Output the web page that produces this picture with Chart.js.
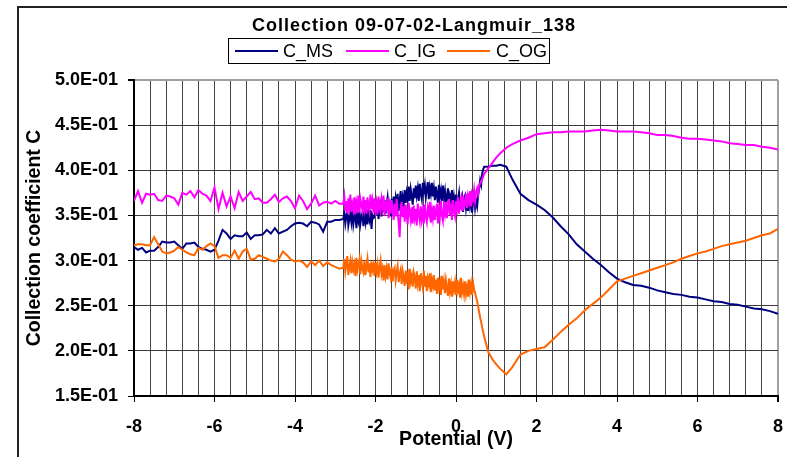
<!DOCTYPE html>
<html>
<head>
<meta charset="utf-8">
<script src="https://cdn.jsdelivr.net/npm/chart.js@4"></script>
<style>
html,body{margin:0;padding:0;background:#fff;}
#wrap{position:relative;width:787px;height:457px;overflow:hidden;font-family:Arial,"Liberation Sans",sans-serif;color:#000;}
#c{position:absolute;left:0;top:0;}
#title{position:absolute;left:214px;width:400px;top:13px;text-align:center;font-weight:bold;font-size:18px;letter-spacing:1px;line-height:24px;white-space:nowrap;}
#legend{position:absolute;left:228px;top:38px;width:320px;height:24px;border:1px solid #000;background:#fff;}
#legend .ln{position:absolute;top:11px;width:43px;height:2px;}
#legend .tx{position:absolute;top:0;line-height:24px;font-size:18px;white-space:nowrap;}
</style>
</head>
<body>
<div id="wrap">
  <canvas id="c" width="787" height="457"></canvas>
  <div id="title">Collection 09-07-02-Langmuir_138</div>
  <div id="legend">
    <div class="ln" style="left:6px;background:#000080"></div><div class="tx" style="left:54px">C_MS</div>
    <div class="ln" style="left:117px;background:#ff00ff"></div><div class="tx" style="left:165px">C_IG</div>
    <div class="ln" style="left:218px;background:#ff6600"></div><div class="tx" style="left:267px">C_OG</div>
  </div>
</div>
<script>
// ---- data ----
const seriesNames = ["C_MS", "C_IG", "C_OG"];

const potential = [
  // sparse part (-8 .. -2.8)
  -8.0,-7.9,-7.8,-7.7,-7.6,-7.5,-7.4,-7.3,-7.2,-7.1,
  -7.0,-6.9,-6.8,-6.7,-6.6,-6.5,-6.4,-6.3,-6.2,-6.1,
  -6.0,-5.9,-5.8,-5.7,-5.6,-5.5,-5.4,-5.3,-5.2,-5.1,
  -5.0,-4.9,-4.8,-4.7,-4.6,-4.5,-4.4,-4.3,-4.2,-4.1,
  -4.0,-3.9,-3.8,-3.7,-3.6,-3.5,-3.4,-3.3,-3.2,-3.1,
  -3.0,-2.9,-2.8,
  // dense part (-2.775 .. 0.7)
  -2.775,-2.750,-2.725,-2.700,-2.675,-2.650,-2.625,-2.600,-2.575,-2.550,
  -2.525,-2.500,-2.475,-2.450,-2.425,-2.400,-2.375,-2.350,-2.325,-2.300,
  -2.275,-2.250,-2.225,-2.200,-2.175,-2.150,-2.125,-2.100,-2.075,-2.050,
  -2.025,-2.000,-1.975,-1.950,-1.925,-1.900,-1.875,-1.850,-1.825,-1.800,
  -1.775,-1.750,-1.725,-1.700,-1.675,-1.650,-1.625,-1.600,-1.575,-1.550,
  -1.525,-1.500,-1.475,-1.450,-1.425,-1.400,-1.375,-1.350,-1.325,-1.300,
  -1.275,-1.250,-1.225,-1.200,-1.175,-1.150,-1.125,-1.100,-1.075,-1.050,
  -1.025,-1.000,-0.975,-0.950,-0.925,-0.900,-0.875,-0.850,-0.825,-0.800,
  -0.775,-0.750,-0.725,-0.700,-0.675,-0.650,-0.625,-0.600,-0.575,-0.550,
  -0.525,-0.500,-0.475,-0.450,-0.425,-0.400,-0.375,-0.350,-0.325,-0.300,
  -0.275,-0.250,-0.225,-0.200,-0.175,-0.150,-0.125,-0.100,-0.075,-0.050,
  -0.025,0.000,0.025,0.050,0.075,0.100,0.125,0.150,0.175,0.200,
  0.225,0.250,0.275,0.300,0.325,0.350,0.375,0.400,0.425,0.450,
  0.475,0.500,0.525,0.550,0.575,0.600,0.625,0.650,0.675,0.700,
  // smooth part (0.8 .. 8)
  0.8,0.9,1.0,1.1,1.25,1.4,1.6,1.8,2.0,2.2,
  2.4,2.6,2.8,3.0,3.2,3.4,3.6,3.8,4.0,4.2,
  4.4,4.6,4.8,5.0,5.2,5.4,5.6,5.8,6.0,6.2,
  6.4,6.6,6.8,7.0,7.2,7.4,7.6,7.8,8.0
];

const cMS = [
  0.315,0.312,0.314,0.309,0.311,0.311,0.315,0.321,0.320,0.320,
  0.321,0.317,0.313,0.319,0.319,0.320,0.315,0.313,0.312,0.310,
  0.312,0.322,0.334,0.330,0.324,0.328,0.327,0.327,0.331,0.324,
  0.328,0.328,0.329,0.334,0.330,0.336,0.330,0.332,0.334,0.338,
  0.341,0.342,0.341,0.338,0.343,0.342,0.340,0.332,0.343,0.343,
  0.345,0.345,0.346,
  0.353,0.341,0.349,0.356,0.339,0.346,0.352,0.343,0.357,0.340,
  0.348,0.354,0.336,0.350,0.344,0.355,0.341,0.349,0.353,0.338,
  0.351,0.343,0.357,0.340,0.353,0.346,0.356,0.335,0.350,0.347,
  0.348,0.362,0.351,0.365,0.346,0.358,0.363,0.349,0.366,0.354,
  0.367,0.352,0.362,0.370,0.355,0.364,0.349,0.368,0.358,0.371,
  0.356,0.369,0.360,0.374,0.355,0.366,0.377,0.359,0.370,0.362,
  0.378,0.364,0.375,0.368,0.382,0.366,0.379,0.371,0.362,0.380,
  0.369,0.383,0.372,0.380,0.366,0.385,0.374,0.368,0.386,0.377,
  0.384,0.370,0.379,0.387,0.368,0.381,0.374,0.386,0.371,0.380,
  0.367,0.382,0.373,0.364,0.384,0.371,0.378,0.366,0.383,0.369,
  0.377,0.362,0.372,0.380,0.360,0.371,0.365,0.378,0.358,0.370,
  0.360,0.373,0.356,0.368,0.375,0.357,0.366,0.371,0.354,0.369,
  0.372,0.358,0.367,0.355,0.374,0.361,0.369,0.353,0.366,0.372,
  0.358,0.366,0.360,0.372,0.380,0.389,0.384,0.396,0.401,0.404,
  0.404,0.405,0.405,0.406,0.404,0.390,0.374,0.367,0.362,0.356,
  0.348,0.338,0.329,0.318,0.310,0.302,0.295,0.287,0.280,0.276,
  0.273,0.272,0.270,0.267,0.265,0.263,0.262,0.260,0.259,0.257,
  0.255,0.254,0.252,0.251,0.249,0.247,0.246,0.244,0.241
];

const cIG = [
  0.366,0.377,0.364,0.374,0.373,0.374,0.367,0.366,0.372,0.371,
  0.369,0.362,0.375,0.373,0.377,0.370,0.378,0.374,0.372,0.366,
  0.381,0.357,0.375,0.360,0.371,0.358,0.376,0.366,0.371,0.376,
  0.368,0.369,0.364,0.364,0.368,0.373,0.365,0.369,0.371,0.366,
  0.358,0.372,0.366,0.357,0.363,0.372,0.361,0.364,0.365,0.363,
  0.366,0.363,0.363,
  0.371,0.355,0.366,0.352,0.369,0.360,0.373,0.354,0.363,0.357,
  0.370,0.351,0.365,0.359,0.372,0.353,0.368,0.362,0.356,0.371,
  0.358,0.367,0.352,0.370,0.361,0.355,0.373,0.357,0.366,0.353,
  0.369,0.356,0.364,0.351,0.371,0.359,0.354,0.368,0.360,0.372,
  0.350,0.366,0.355,0.369,0.347,0.361,0.352,0.367,0.358,0.345,
  0.363,0.349,0.368,0.354,0.342,0.326,0.356,0.365,0.348,0.360,
  0.343,0.362,0.350,0.340,0.364,0.353,0.345,0.359,0.341,0.361,
  0.348,0.357,0.339,0.363,0.351,0.344,0.360,0.346,0.355,0.341,
  0.362,0.349,0.343,0.358,0.352,0.365,0.342,0.356,0.347,0.361,
  0.345,0.354,0.363,0.341,0.357,0.349,0.366,0.350,0.344,0.360,
  0.352,0.365,0.347,0.360,0.368,0.350,0.358,0.345,0.367,0.355,
  0.349,0.366,0.357,0.370,0.352,0.363,0.369,0.355,0.372,0.359,
  0.362,0.374,0.358,0.371,0.365,0.377,0.360,0.373,0.368,0.378,
  0.366,0.376,0.380,0.374,0.383,0.385,0.388,0.390,0.393,0.396,
  0.402,0.408,0.414,0.419,0.425,0.429,0.433,0.436,0.440,0.441,
  0.442,0.442,0.443,0.443,0.443,0.444,0.445,0.444,0.443,0.443,
  0.443,0.442,0.441,0.439,0.439,0.438,0.436,0.435,0.435,0.434,
  0.433,0.432,0.430,0.429,0.428,0.428,0.426,0.425,0.423
];

const cOG = [
  0.317,0.318,0.318,0.317,0.317,0.326,0.318,0.310,0.308,0.309,
  0.311,0.315,0.312,0.309,0.307,0.306,0.314,0.312,0.316,0.319,
  0.316,0.303,0.306,0.306,0.303,0.311,0.302,0.310,0.313,0.301,
  0.302,0.306,0.304,0.302,0.300,0.299,0.302,0.310,0.306,0.301,
  0.299,0.300,0.298,0.293,0.299,0.295,0.300,0.294,0.298,0.295,
  0.293,0.291,0.292,
  0.302,0.288,0.297,0.305,0.284,0.293,0.300,0.286,0.298,0.290,
  0.296,0.283,0.303,0.289,0.295,0.301,0.285,0.299,0.291,0.287,
  0.300,0.284,0.294,0.302,0.287,0.297,0.282,0.299,0.290,0.295,
  0.283,0.298,0.288,0.296,0.281,0.293,0.300,0.285,0.291,0.278,
  0.295,0.283,0.291,0.279,0.297,0.286,0.281,0.293,0.277,0.289,
  0.292,0.278,0.287,0.294,0.276,0.285,0.290,0.274,0.288,0.281,
  0.272,0.289,0.279,0.284,0.268,0.291,0.277,0.283,0.271,0.287,
  0.282,0.269,0.288,0.275,0.284,0.266,0.286,0.277,0.270,0.289,
  0.271,0.283,0.266,0.280,0.274,0.286,0.265,0.279,0.272,0.284,
  0.267,0.279,0.263,0.281,0.270,0.276,0.262,0.283,0.268,0.277,
  0.264,0.278,0.269,0.261,0.280,0.266,0.274,0.260,0.277,0.268,
  0.276,0.262,0.279,0.267,0.273,0.259,0.281,0.265,0.272,0.263,
  0.277,0.263,0.271,0.260,0.279,0.266,0.274,0.262,0.275,0.268,
  0.264,0.259,0.255,0.249,0.243,0.237,0.232,0.226,0.221,0.216,
  0.199,0.191,0.185,0.180,0.174,0.182,0.196,0.200,0.202,0.204,
  0.212,0.221,0.229,0.236,0.245,0.252,0.259,0.268,0.277,0.280,
  0.283,0.286,0.289,0.292,0.295,0.298,0.302,0.305,0.308,0.310,
  0.313,0.316,0.318,0.320,0.322,0.325,0.328,0.330,0.335
];

const xMin = -8, xMax = 8, xGridStep = 0.4, xLabelStep = 2;
const yMin = 0.15, yMax = 0.5, yStep = 0.05;

// ---- chart ----
const toPoints = arr => potential.map((x, i) => ({x: x, y: arr[i]}));
const isMajor = v => Math.abs(v / xLabelStep - Math.round(v / xLabelStep)) < 1e-6;
const fmtE = v => {
  const p = Number(v).toExponential(1).split('e');
  const e = parseInt(p[1], 10);
  return p[0] + 'E' + (e < 0 ? '-' : '+') + String(Math.abs(e)).padStart(2, '0');
};

const frame = {
  id: 'frame',
  beforeDraw(chart) {
    const c = chart.ctx;
    c.save();
    c.fillStyle = '#fff';
    c.fillRect(0, 0, chart.width, chart.height);
    c.strokeStyle = '#222';
    c.lineWidth = 2;
    c.beginPath();
    c.moveTo(18, 470);
    c.lineTo(18, 7);
    c.lineTo(800, 7);
    c.stroke();
    c.restore();
  }
};

const font = {family: 'Arial, "Liberation Sans", sans-serif', weight: 'bold'};

new Chart(document.getElementById('c'), {
  type: 'line',
  data: {
    datasets: [
      {label: seriesNames[0], data: toPoints(cMS), borderColor: '#000080', backgroundColor: '#000080', order: 3},
      {label: seriesNames[1], data: toPoints(cIG), borderColor: '#ff00ff', backgroundColor: '#ff00ff', order: 2},
      {label: seriesNames[2], data: toPoints(cOG), borderColor: '#ff6600', backgroundColor: '#ff6600', order: 1}
    ]
  },
  options: {
    responsive: false,
    animation: false,
    devicePixelRatio: 1,
    elements: {
      line: {borderWidth: 2, tension: 0, fill: false},
      point: {radius: 0, hoverRadius: 0}
    },
    layout: {padding: {top: 80, right: 9, bottom: 0, left: 0}},
    plugins: {
      legend: {display: false},
      title: {display: false},
      tooltip: {enabled: false}
    },
    scales: {
      x: {
        type: 'linear',
        position: 'bottom',
        min: xMin, max: xMax,
        afterFit: s => { s.height = 61; s.paddingRight = 0; s.paddingLeft = 0; },
        ticks: {
          stepSize: xGridStep,
          autoSkip: false,
          maxRotation: 0,
          padding: 14,
          color: '#000',
          font: Object.assign({size: 18}, font),
          callback: v => isMajor(v) ? String(Math.round(v) || 0) : ''
        },
        grid: {
          color: ctx => (ctx.tick && Math.abs(ctx.tick.value - xMax) < 1e-6) ? '#a0a0a0' : '#454545',
          lineWidth: ctx => (ctx.tick && Math.abs(ctx.tick.value - xMax) < 1e-6) ? 2 : 1,
          tickLength: 6,
          tickColor: ctx => (ctx.tick && isMajor(ctx.tick.value)) ? '#000' : 'rgba(0,0,0,0)'
        },
        border: {color: '#000', width: 2},
        title: {
          display: true,
          text: 'Potential (V)',
          color: '#000',
          font: Object.assign({size: 19.5}, font),
          padding: {top: 0, bottom: 6}
        }
      },
      y: {
        type: 'linear',
        min: yMin, max: yMax,
        afterFit: s => { s.width = 134; },
        ticks: {
          stepSize: yStep,
          padding: 10,
          color: '#000',
          font: Object.assign({size: 18}, font),
          callback: v => fmtE(v)
        },
        grid: {
          color: ctx => (ctx.tick && Math.abs(ctx.tick.value - yMax) < 1e-6) ? '#a0a0a0' : '#3a3a3a',
          lineWidth: ctx => (ctx.tick && Math.abs(ctx.tick.value - yMax) < 1e-6) ? 2 : 1,
          tickLength: 6,
          tickColor: '#000'
        },
        border: {color: '#000', width: 2},
        title: {
          display: true,
          text: 'Collection coefficient C',
          color: '#000',
          font: Object.assign({size: 19.5}, font),
          padding: {top: 23, bottom: 0}
        }
      }
    }
  },
  plugins: [frame]
});
</script>
</body>
</html>
